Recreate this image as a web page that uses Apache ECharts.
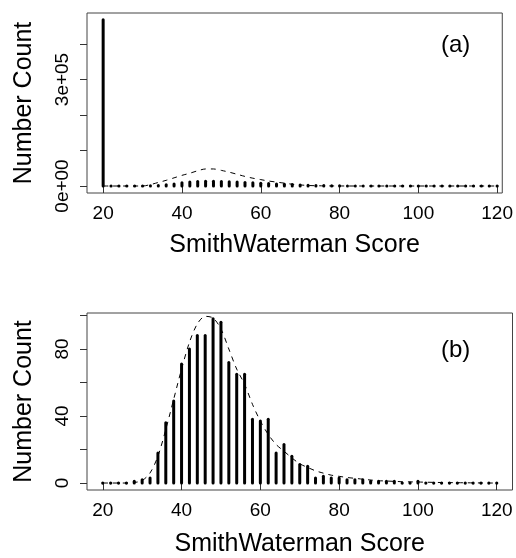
<!DOCTYPE html>
<html>
<head>
<meta charset="utf-8">
<script src="https://cdn.jsdelivr.net/npm/echarts@6/dist/echarts.min.js"></script>
<style>
html,body{margin:0;padding:0;background:#fff;}
#chart{width:516px;height:558px;}
</style>
</head>
<body>
<div id="chart"></div>
<script>
// Scores (x positions of the spikes and the fitted curve)
const scores = [20,22,24,26,28,30,32,34,36,38,40,42,44,46,48,50,52,54,56,58,60,62,64,66,68,70,72,74,76,78,80,82,84,86,88,90,92,94,96,98,100,102,104,106,108,110,112,114,116,118,120];

// Panel (a): counts and dashed curve
const countsA = [468000,0,0,0,0,0,500,1500,3500,6000,9000,11000,12500,13500,13500,13000,12000,11000,10000,9000,8000,7000,6000,5000,4000,3000,2200,1600,1200,800,500,300,200,100,0,0,0,0,0,0,0,0,0,0,0,0,0,0,0,0,0];
const curveA = [0,0,0,0,0,0,4000,10000,16000,23000,30000,36000,43000,48000,48000,44000,39000,33000,27000,22000,18000,14000,11000,8000,5000,3000,1500,800,400,200,100,0,0,0,0,0,0,0,0,0,0,0,0,0,0,0,0,0,0,0,0];

// Panel (b): counts and dashed curve
const countsB = [0,0,0,0,1,2,3,18,36,49,71,80,88,88,98,96,72,65,65,38,37,38,18,23,16,11,10,3,4,3,3,2,2,2,1,1,1,1,0,0,1,0,0,0,0,0,0,0,0,0,0];
const curveB = [0,0,0,0,0.3,1.5,6,16,32,50,68,84,95,99.5,98.5,92,80,68,59,47,37,29,23,19,15,11.5,9.3,7.3,5.9,4.7,4,3.3,2.8,2.3,1.8,1.4,1.2,1,0.8,0.7,0.6,0.5,0.4,0.3,0.25,0.2,0.15,0.1,0.05,0,0];

// Tick values
const xTicks = [20,40,60,80,100,120];
const yTicksA = [0,100000,200000,300000,400000];
const yLabelsA = [0,300000];
const yTicksB = [0,20,40,60,80,100];
const yLabelsB = [0,40,80];

const FONT = 'Liberation Sans, Arial, Helvetica, sans-serif';
const pairs = (xs, ys) => xs.map((x, i) => [x, ys[i]]);

function spikeRender(params, api) {
  const x = api.value(0), v = api.value(1);
  const p0 = api.coord([x, 0]);
  if (!v) {
    return {type: 'circle', shape: {cx: p0[0], cy: p0[1], r: 1.6}, style: {fill: '#000'}};
  }
  const p1 = api.coord([x, v]);
  return {type: 'line', shape: {x1: p0[0], y1: p0[1], x2: p1[0], y2: p1[1]},
          style: {stroke: '#000', lineWidth: 3, lineCap: 'round'}};
}

function fmtSci(v) {
  if (v === 0) return '0e+00';
  const e = Math.floor(Math.log10(Math.abs(v)));
  const m = v / Math.pow(10, e);
  return m + 'e+' + String(e).padStart(2, '0');
}

const axisCommon = {
  axisLine: {show: false},
  splitLine: {show: false},
  axisTick: {show: true, inside: false, length: 7, lineStyle: {color: '#333', width: 1}},
};

const option = {
  animation: false,
  backgroundColor: '#fff',
  grid: [
    {left: 87, top: 13, width: 416, height: 180, show: true, borderColor: '#444', borderWidth: 1, backgroundColor: 'transparent'},
    {left: 87, top: 313, width: 425.5, height: 178, show: true, borderColor: '#444', borderWidth: 1, backgroundColor: 'transparent'}
  ],
  xAxis: [
    Object.assign({}, axisCommon, {
      type: 'value', gridIndex: 0, min: 15.9, max: 121.3,
      axisTick: Object.assign({}, axisCommon.axisTick, {customValues: xTicks}),
      axisLabel: {customValues: xTicks, fontSize: 19, fontFamily: FONT, color: '#000', margin: 11},
      name: 'SmithWaterman Score', nameLocation: 'middle', nameGap: 40,
      nameTextStyle: {fontSize: 25, fontFamily: FONT, color: '#000'}
    }),
    Object.assign({}, axisCommon, {
      type: 'value', gridIndex: 1, min: 16, max: 124,
      axisTick: Object.assign({}, axisCommon.axisTick, {customValues: xTicks}),
      axisLabel: {customValues: xTicks, fontSize: 19, fontFamily: FONT, color: '#000', margin: 11},
      name: 'SmithWaterman Score', nameLocation: 'middle', nameGap: 42,
      nameTextStyle: {fontSize: 25, fontFamily: FONT, color: '#000'}
    })
  ],
  yAxis: [
    Object.assign({}, axisCommon, {
      type: 'value', gridIndex: 0, min: -19700, max: 487300,
      axisTick: Object.assign({}, axisCommon.axisTick, {customValues: yTicksA}),
      axisLabel: {customValues: yLabelsA, rotate: 90, fontSize: 19, fontFamily: FONT, color: '#000', margin: 15, formatter: fmtSci},
      name: 'Number Count', nameLocation: 'middle', nameGap: 50, nameRotate: 90,
      nameTextStyle: {fontSize: 25, fontFamily: FONT, color: '#000'}
    }),
    Object.assign({}, axisCommon, {
      type: 'value', gridIndex: 1, min: -4.16, max: 101.5,
      axisTick: Object.assign({}, axisCommon.axisTick, {customValues: yTicksB}),
      axisLabel: {customValues: yLabelsB, rotate: 90, fontSize: 19, fontFamily: FONT, color: '#000', margin: 15},
      name: 'Number Count', nameLocation: 'middle', nameGap: 50, nameRotate: 90,
      nameTextStyle: {fontSize: 25, fontFamily: FONT, color: '#000'}
    })
  ],
  series: [
    {type: 'custom', xAxisIndex: 0, yAxisIndex: 0, data: pairs(scores, countsA), renderItem: spikeRender, silent: true},
    {type: 'line', xAxisIndex: 0, yAxisIndex: 0, data: pairs(scores, curveA), showSymbol: false, smooth: 0.3,
     lineStyle: {color: '#000', width: 1, type: [5, 5]}, silent: true},
    {type: 'custom', xAxisIndex: 1, yAxisIndex: 1, data: pairs(scores, countsB), renderItem: spikeRender, silent: true},
    {type: 'line', xAxisIndex: 1, yAxisIndex: 1, data: pairs(scores, curveB), showSymbol: false, smooth: 0.3,
     lineStyle: {color: '#000', width: 1, type: [5, 5]}, silent: true}
  ],
  graphic: [
    {type: 'text', left: 441, top: 33, style: {text: '(a)', fontSize: 24, fontFamily: FONT, fill: '#000'}},
    {type: 'text', left: 441, top: 338, style: {text: '(b)', fontSize: 24, fontFamily: FONT, fill: '#000'}}
  ]
};

const chart = echarts.init(document.getElementById('chart'), null, {renderer: 'canvas'});
chart.setOption(option);
</script>
</body>
</html>
